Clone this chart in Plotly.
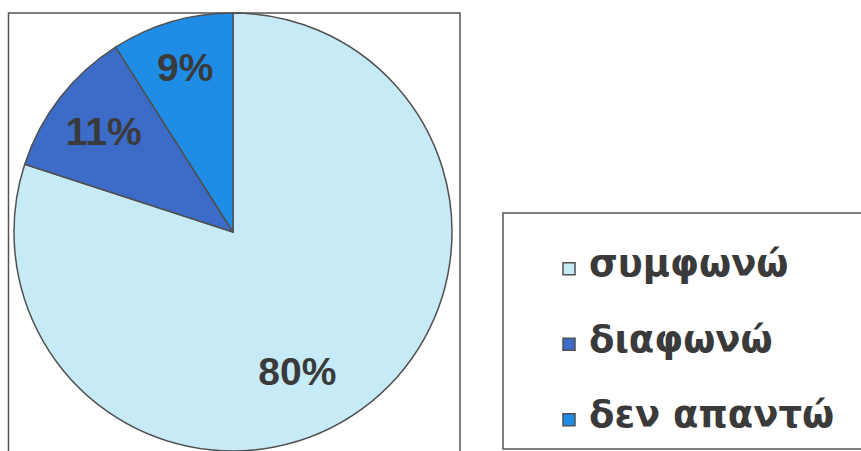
import plotly.graph_objects as go

categories = ["συμφωνώ", "διαφωνώ", "δεν απαντώ"]
values = [80, 11, 9]
colors = ["#C6EAF6", "#3D6CC8", "#1F8DE6"]

W, H = 861, 451

def px_x(p):
    return p / W

def px_y(p):
    return 1 - p / H

# legend labels: big text on the middle line, small base font sets row spacing
legend_labels = [" <br><span style='font-size:37px'>%s</span><br> " % c for c in categories]
# slice labels (first one nudged lower inside the big slice)
text_templates = ["&nbsp;<br>&nbsp;<br>%{percent:.0%}", "%{percent:.0%}", "%{percent:.0%}"]

fig = go.Figure(
    go.Pie(
        labels=legend_labels,
        values=values,
        sort=False,
        direction="clockwise",
        rotation=0,
        marker=dict(colors=colors, line=dict(color="#505050", width=1.5)),
        texttemplate=text_templates,
        textposition="inside",
        insidetextorientation="horizontal",
        textfont=dict(family="Liberation Sans, Arial, sans-serif", size=39, color="#3a3a3a", weight="bold"),
        domain=dict(x=[px_x(8), px_x(458)], y=[0, px_y(13)]),
        hoverinfo="skip",
    )
)

fig.update_layout(
    width=W,
    height=H,
    margin=dict(l=0, r=0, t=0, b=0, autoexpand=False),
    paper_bgcolor="white",
    plot_bgcolor="white",
    showlegend=True,
    legend=dict(
        x=px_x(549),
        y=px_y(226),
        xanchor="left",
        yanchor="top",
        bgcolor="rgba(0,0,0,0)",
        borderwidth=0,
        font=dict(family="DejaVu Sans, sans-serif", size=18.6, color="#3a3a3a", weight="bold"),
        valign="middle",
    ),
    shapes=[
        dict(type="rect", xref="paper", yref="paper",
             x0=px_x(8.5), x1=px_x(460), y0=-0.05, y1=px_y(13),
             line=dict(color="#555555", width=1.5), layer="below"),
        dict(type="rect", xref="paper", yref="paper",
             x0=px_x(503), x1=1.05, y0=px_y(449), y1=px_y(213),
             line=dict(color="#555555", width=1.5), layer="below"),
    ],
)

fig.write_html(
    "out.html",
    config={"displayModeBar": False},
    post_script=(
        "document.body.style.margin='0';"
        "document.body.style.overflow='hidden';"
        "document.documentElement.style.overflow='hidden';"
    ),
)
